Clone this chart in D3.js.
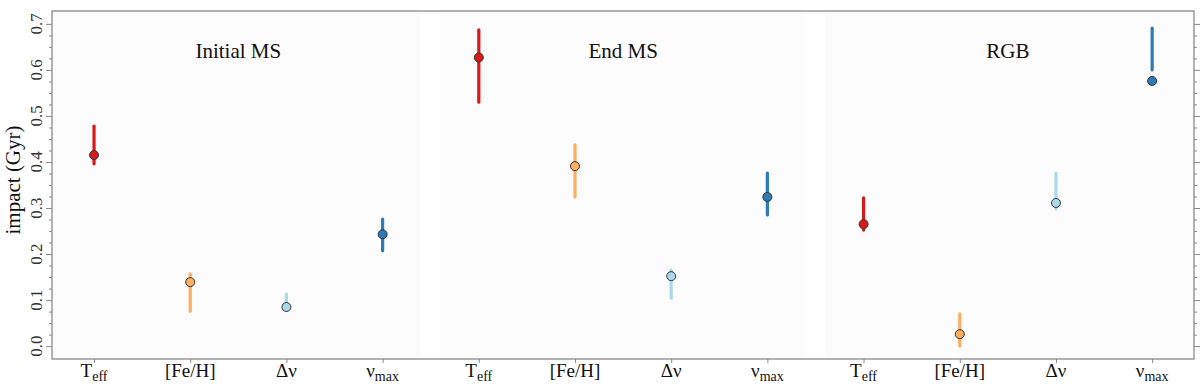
<!DOCTYPE html>
<html>
<head>
<meta charset="utf-8">
<script src="https://cdn.jsdelivr.net/npm/d3@7"></script>
<style>
  body { margin: 0; background: #fff; }
  svg text { font-family: "Liberation Serif", "DejaVu Serif", serif; }
</style>
</head>
<body>
<div id="chart"></div>
<script>
// phases and parameters
const phases = ['Initial MS', 'End MS', 'RGB'];
const params = ['Teff', 'FeH', 'dnu', 'numax'];
const paramColors = ['#d7191c', '#fdae61', '#abd9e9', '#2c7bb6'];

// impact (Gyr) per phase, in order of params
const impactVal = [
  [0.415, 0.139, 0.085, 0.243],
  [0.627, 0.391, 0.152, 0.324],
  [0.265, 0.026, 0.311, 0.576]
];
const impactLo = [
  [0.396, 0.076, 0.078, 0.207],
  [0.530, 0.324, 0.104, 0.285],
  [0.252, 0.000, 0.298, 0.600]
];
const impactHi = [
  [0.478, 0.157, 0.113, 0.276],
  [0.687, 0.437, 0.165, 0.376],
  [0.322, 0.070, 0.376, 0.691]
];
const yTicks = [0, 0.1, 0.2, 0.3, 0.4, 0.5, 0.6, 0.7];

let W = 1200, H = 387;
let margin = {left: 52, right: 6, top: 11, bottom: 28};

let svg = d3.select('#chart').append('svg').attr('width', W).attr('height', H);

// flatten into rows
let rows = [];
phases.forEach((ph, i) => {
  params.forEach((p, j) => {
    rows.push({idx: i * params.length + j, param: j, val: impactVal[i][j], lo: impactLo[i][j], hi: impactHi[i][j]});
  });
});

var xScale = d3.scaleLinear().domain([-0.437, 11.435]).range([margin.left, W - margin.right]);
var yScale = d3.scaleLinear().domain([-0.028, 0.728]).range([H - margin.bottom, margin.top]);

// panel backgrounds
let panels = [[-0.437, 3.39], [3.6, 7.39], [7.6, 11.435]];
svg.append('g').selectAll('rect').data(panels).enter().append('rect')
  .attr('x', d => xScale(d[0]))
  .attr('y', yScale(0.728))
  .attr('width', d => xScale(d[1]) - xScale(d[0]))
  .attr('height', yScale(-0.028) - yScale(0.728))
  .attr('fill', '#fcfcfc');

// panel titles
svg.append('g').selectAll('text').data(phases).enter().append('text')
  .attr('x', (d, i) => xScale(i * 4 + 1.5))
  .attr('y', 58)
  .attr('text-anchor', 'middle')
  .attr('font-size', 21)
  .attr('fill', '#111')
  .text(d => d);

// axes
let axisColor = '#8a8a8a';
let minorTicks = d3.range(0, 0.7001, 0.025);
let isMajor = d => Math.abs(d * 10 - Math.round(d * 10)) < 1e-6;

let leftAxis = svg.append('g').attr('transform', 'translate(' + margin.left + ',0)');
leftAxis.call(d3.axisLeft(yScale).tickValues(minorTicks).tickSize(3).tickFormat(''));
leftAxis.selectAll('.tick').filter(isMajor).select('line').attr('x2', -6);

let rightAxis = svg.append('g').attr('transform', 'translate(' + (W - margin.right) + ',0)');
rightAxis.call(d3.axisRight(yScale).tickValues(minorTicks).tickSize(3).tickFormat(''));
rightAxis.selectAll('.tick').filter(isMajor).select('line').attr('x2', 6);

let bottomAxis = svg.append('g').attr('transform', 'translate(0,' + (H - margin.bottom) + ')');
bottomAxis.call(d3.axisBottom(xScale).tickValues(d3.range(12)).tickSize(4).tickFormat(''));

[leftAxis, rightAxis, bottomAxis].forEach(a => {
  a.select('.domain').remove();
  a.selectAll('line').attr('stroke', axisColor).attr('stroke-width', 1);
});

// frame
svg.append('rect')
  .attr('x', margin.left).attr('y', margin.top)
  .attr('width', W - margin.right - margin.left)
  .attr('height', H - margin.bottom - margin.top)
  .attr('fill', 'none').attr('stroke', axisColor).attr('stroke-width', 1.3);

// y tick labels (rotated)
svg.append('g').selectAll('text').data(yTicks).enter().append('text')
  .attr('transform', d => 'translate(' + 42 + ',' + yScale(d) + ') rotate(-90)')
  .attr('text-anchor', 'middle')
  .attr('font-size', 17)
  .attr('fill', '#333')
  .text(d => d.toFixed(1));

// y label
svg.append('text')
  .attr('transform', 'translate(' + 20 + ',' + 180 + ') rotate(-90)')
  .attr('text-anchor', 'middle')
  .attr('font-size', 21)
  .attr('fill', '#111')
  .text('impact (Gyr)');

// x tick labels
let labelParts = {
  Teff: ['T', 'eff'],
  FeH: ['[Fe/H]', ''],
  dnu: ['\u0394\u03bd', ''],
  numax: ['\u03bd', 'max']
};
let xl = svg.append('g').selectAll('text').data(rows).enter().append('text')
  .attr('x', d => xScale(d.idx))
  .attr('y', 377)
  .attr('text-anchor', 'middle')
  .attr('font-size', 19)
  .attr('fill', '#111');
xl.append('tspan').text(d => labelParts[params[d.param]][0]);
xl.append('tspan').attr('font-size', 14).attr('dy', 4)
  .text(d => labelParts[params[d.param]][1]);

// error bars
svg.append('g').selectAll('line').data(rows).enter().append('line')
  .attr('x1', d => xScale(d.idx)).attr('x2', d => xScale(d.idx))
  .attr('y1', d => yScale(d.lo)).attr('y2', d => yScale(d.hi))
  .attr('stroke', d => paramColors[d.param])
  .attr('stroke-width', 3.2)
  .attr('stroke-linecap', 'round');

// points
svg.append('g').selectAll('circle').data(rows).enter().append('circle')
  .attr('cx', d => xScale(d.idx))
  .attr('cy', d => yScale(d.val))
  .attr('r', 4.5)
  .attr('fill', d => paramColors[d.param])
  .attr('stroke', '#333')
  .attr('stroke-width', 1);
</script>
</body>
</html>
